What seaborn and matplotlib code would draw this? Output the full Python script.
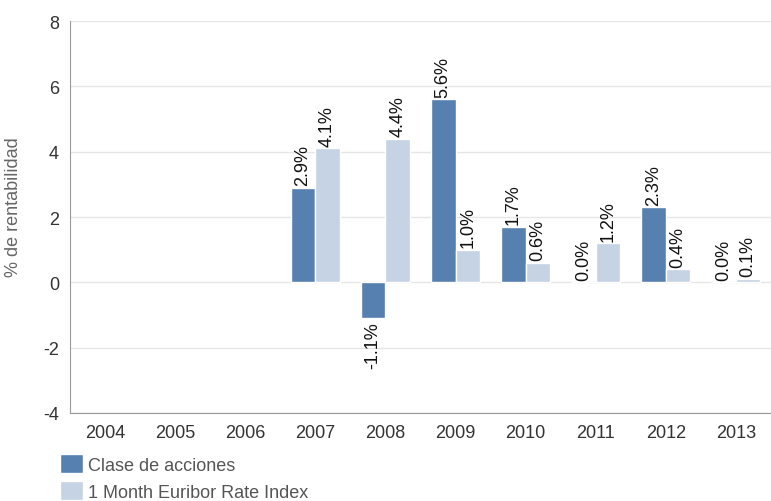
import numpy as np
import pandas as pd
import matplotlib
matplotlib.use("Agg")
import matplotlib.pyplot as plt
import seaborn as sns

# Data
years = ['2004', '2005', '2006', '2007', '2008', '2009', '2010', '2011', '2012', '2013']
clase = [np.nan, np.nan, np.nan, 2.9, -1.1, 5.6, 1.7, 0.0, 2.3, 0.0]
euribor = [np.nan, np.nan, np.nan, 4.1, 4.4, 1.0, 0.6, 1.2, 0.4, 0.1]
series_names = ['Clase de acciones', '1 Month Euribor Rate Index']
colors = ['#5580b0', '#c5d3e5']

df = pd.DataFrame({
    'year': years * 2,
    'serie': [series_names[0]] * len(years) + [series_names[1]] * len(years),
    'valor': clase + euribor,
})

sns.set_style('white')
plt.rcParams['font.family'] = ['Liberation Sans', 'DejaVu Sans']
plt.rcParams['axes.unicode_minus'] = False

fig = plt.figure(figsize=(7.71, 5.02), dpi=100)
ax = fig.add_axes([70 / 771, 1 - 414 / 502, 701 / 771, 392 / 502])

sns.barplot(data=df, x='year', y='valor', hue='serie', order=years,
            hue_order=series_names, palette=colors, width=0.7,
            edgecolor='white', linewidth=1, saturation=1, ax=ax, legend=True)

ax.set_ylim(-4, 8)
ax.set_xlim(-0.5, len(years) - 0.5)
ax.set_yticks([-4, -2, 0, 2, 4, 6, 8])
ax.yaxis.grid(True, color='#e6e6e6', linewidth=1)
ax.set_axisbelow(True)
for s in ['top', 'right']:
    ax.spines[s].set_visible(False)
ax.spines['left'].set_color('#999999')
ax.spines['bottom'].set_color('#999999')
ax.tick_params(axis='both', length=0, labelsize=13, colors='#333333')
ax.tick_params(axis='x', pad=8)
ax.tick_params(axis='y', pad=8)
ax.set_xlabel('')
ax.set_ylabel('% de rentabilidad', fontsize=13, color='#666666', va='center')
ax.yaxis.set_label_coords(-56 / 701, 0.528)

# value labels, rotated (bars for missing years are not drawn)
for container in ax.containers:
    for bar in container:
        val = bar.get_height()
        if np.isnan(val):
            continue
        x = bar.get_x() + bar.get_width() / 2
        if val >= 0:
            ax.text(x, val + 0.08, f'{val:.1f}%', rotation=90, ha='center',
                    va='bottom', fontsize=13, color='#111111')
        else:
            ax.text(x, val - 0.08, f'{val:.1f}%', rotation=90, ha='center',
                    va='top', fontsize=13, color='#111111')

leg = ax.legend(loc='upper left', bbox_to_anchor=(53 / 771, 1 - 448 / 502),
                bbox_transform=fig.transFigure, frameon=False, fontsize=13,
                handlelength=1.25, handleheight=1.25, handletextpad=0.3,
                labelspacing=0.4, borderaxespad=0)
for t in leg.get_texts():
    t.set_color('#555555')

fig.savefig('out.png', dpi=100)
